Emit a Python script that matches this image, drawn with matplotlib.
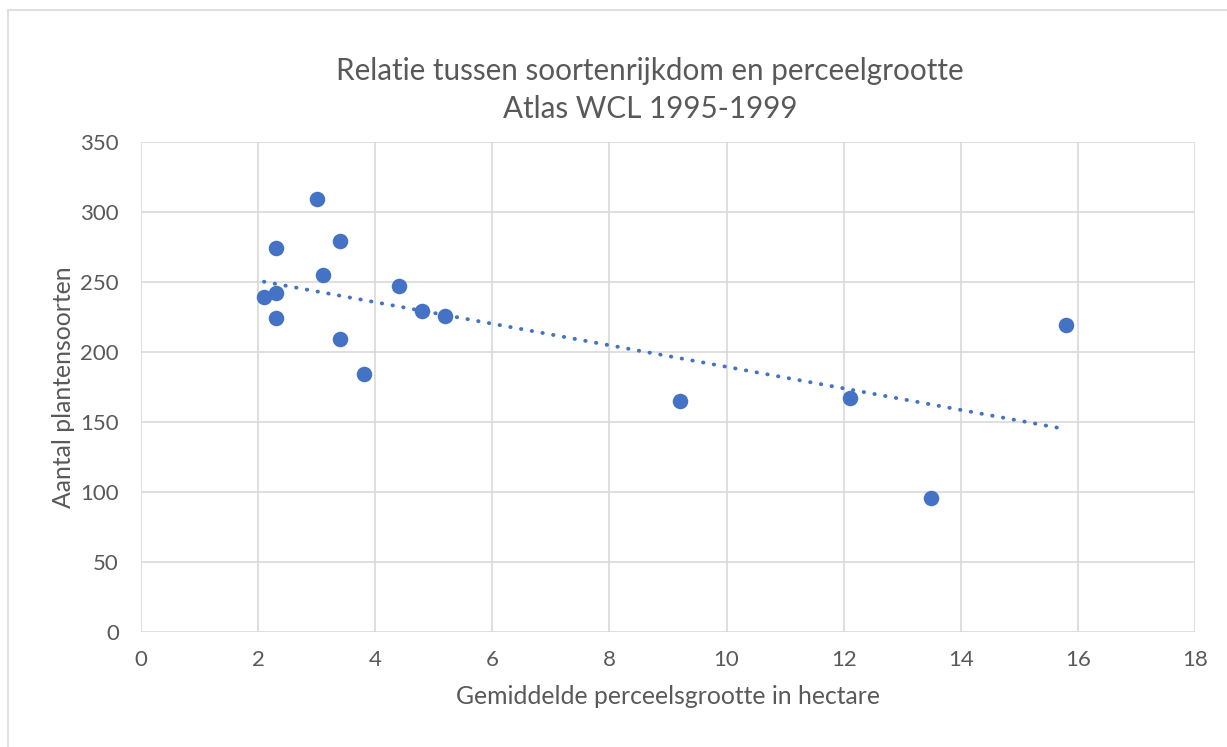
import numpy as np
import matplotlib.pyplot as plt
from matplotlib.patches import Rectangle

# gemiddelde perceelsgrootte (ha) en aantal plantensoorten
perceel = [2.1, 2.3, 2.3, 2.3, 3.0, 3.1, 3.4, 3.4, 3.8, 4.4, 4.8, 5.2, 9.2, 12.1, 13.5, 15.8]
soorten = [239, 274, 242, 224, 309, 255, 279, 209, 184, 247, 229, 226, 165, 167, 96, 219]

x_ticks = [0, 2, 4, 6, 8, 10, 12, 14, 16, 18]
y_ticks = [0, 50, 100, 150, 200, 250, 300, 350]

blue = '#4472c4'
grey = '#595959'
grid = '#d9d9d9'

plt.rcParams['font.family'] = ['Lato', 'DejaVu Sans']

fig = plt.figure(figsize=(12.27, 7.47), dpi=100)
fig.patches.append(Rectangle((8 / 1227, -0.01), 1.02, 1 - 10 / 747 + 0.01,
                             transform=fig.transFigure, fill=False,
                             edgecolor=grid, linewidth=1.2))

ax = fig.add_axes([141 / 1227, 1 - 632 / 747, 1054 / 1227, 490 / 747])
ax.scatter(perceel, soorten, s=125, color=blue, zorder=3, linewidths=0)

# lineaire trendlijn
a, b = np.polyfit(perceel, soorten, 1)
xs = np.array([min(perceel), max(perceel)])
ax.plot(xs, a * xs + b, color=blue, linewidth=2.8,
        linestyle=(0, (0.1, 2.7)), dash_capstyle='round', zorder=2)

ax.set_xlim(0, 18)
ax.set_ylim(0, 350)
ax.set_xticks(x_ticks)
ax.set_yticks(y_ticks)
ax.grid(True, color=grid, linewidth=1.2)
ax.set_axisbelow(True)
for s in ax.spines.values():
    s.set_visible(False)
ax.tick_params(length=0, labelsize=16, colors=grey)
ax.tick_params(axis='x', pad=13)
ax.tick_params(axis='y', pad=16)

ax.set_xlabel('Gemiddelde perceelsgrootte in hectare', fontsize=17.8, color=grey, labelpad=11)
ax.set_ylabel('Aantal plantensoorten', fontsize=17.8, color=grey, labelpad=4)
fig.text(650 / 1227, 1 - 90 / 747,
         'Relatie tussen soortenrijkdom en perceelgrootte\nAtlas WCL 1995-1999',
         ha='center', va='center', fontsize=21.3, color=grey, linespacing=1.4)

fig.savefig('out.png', dpi=100)
